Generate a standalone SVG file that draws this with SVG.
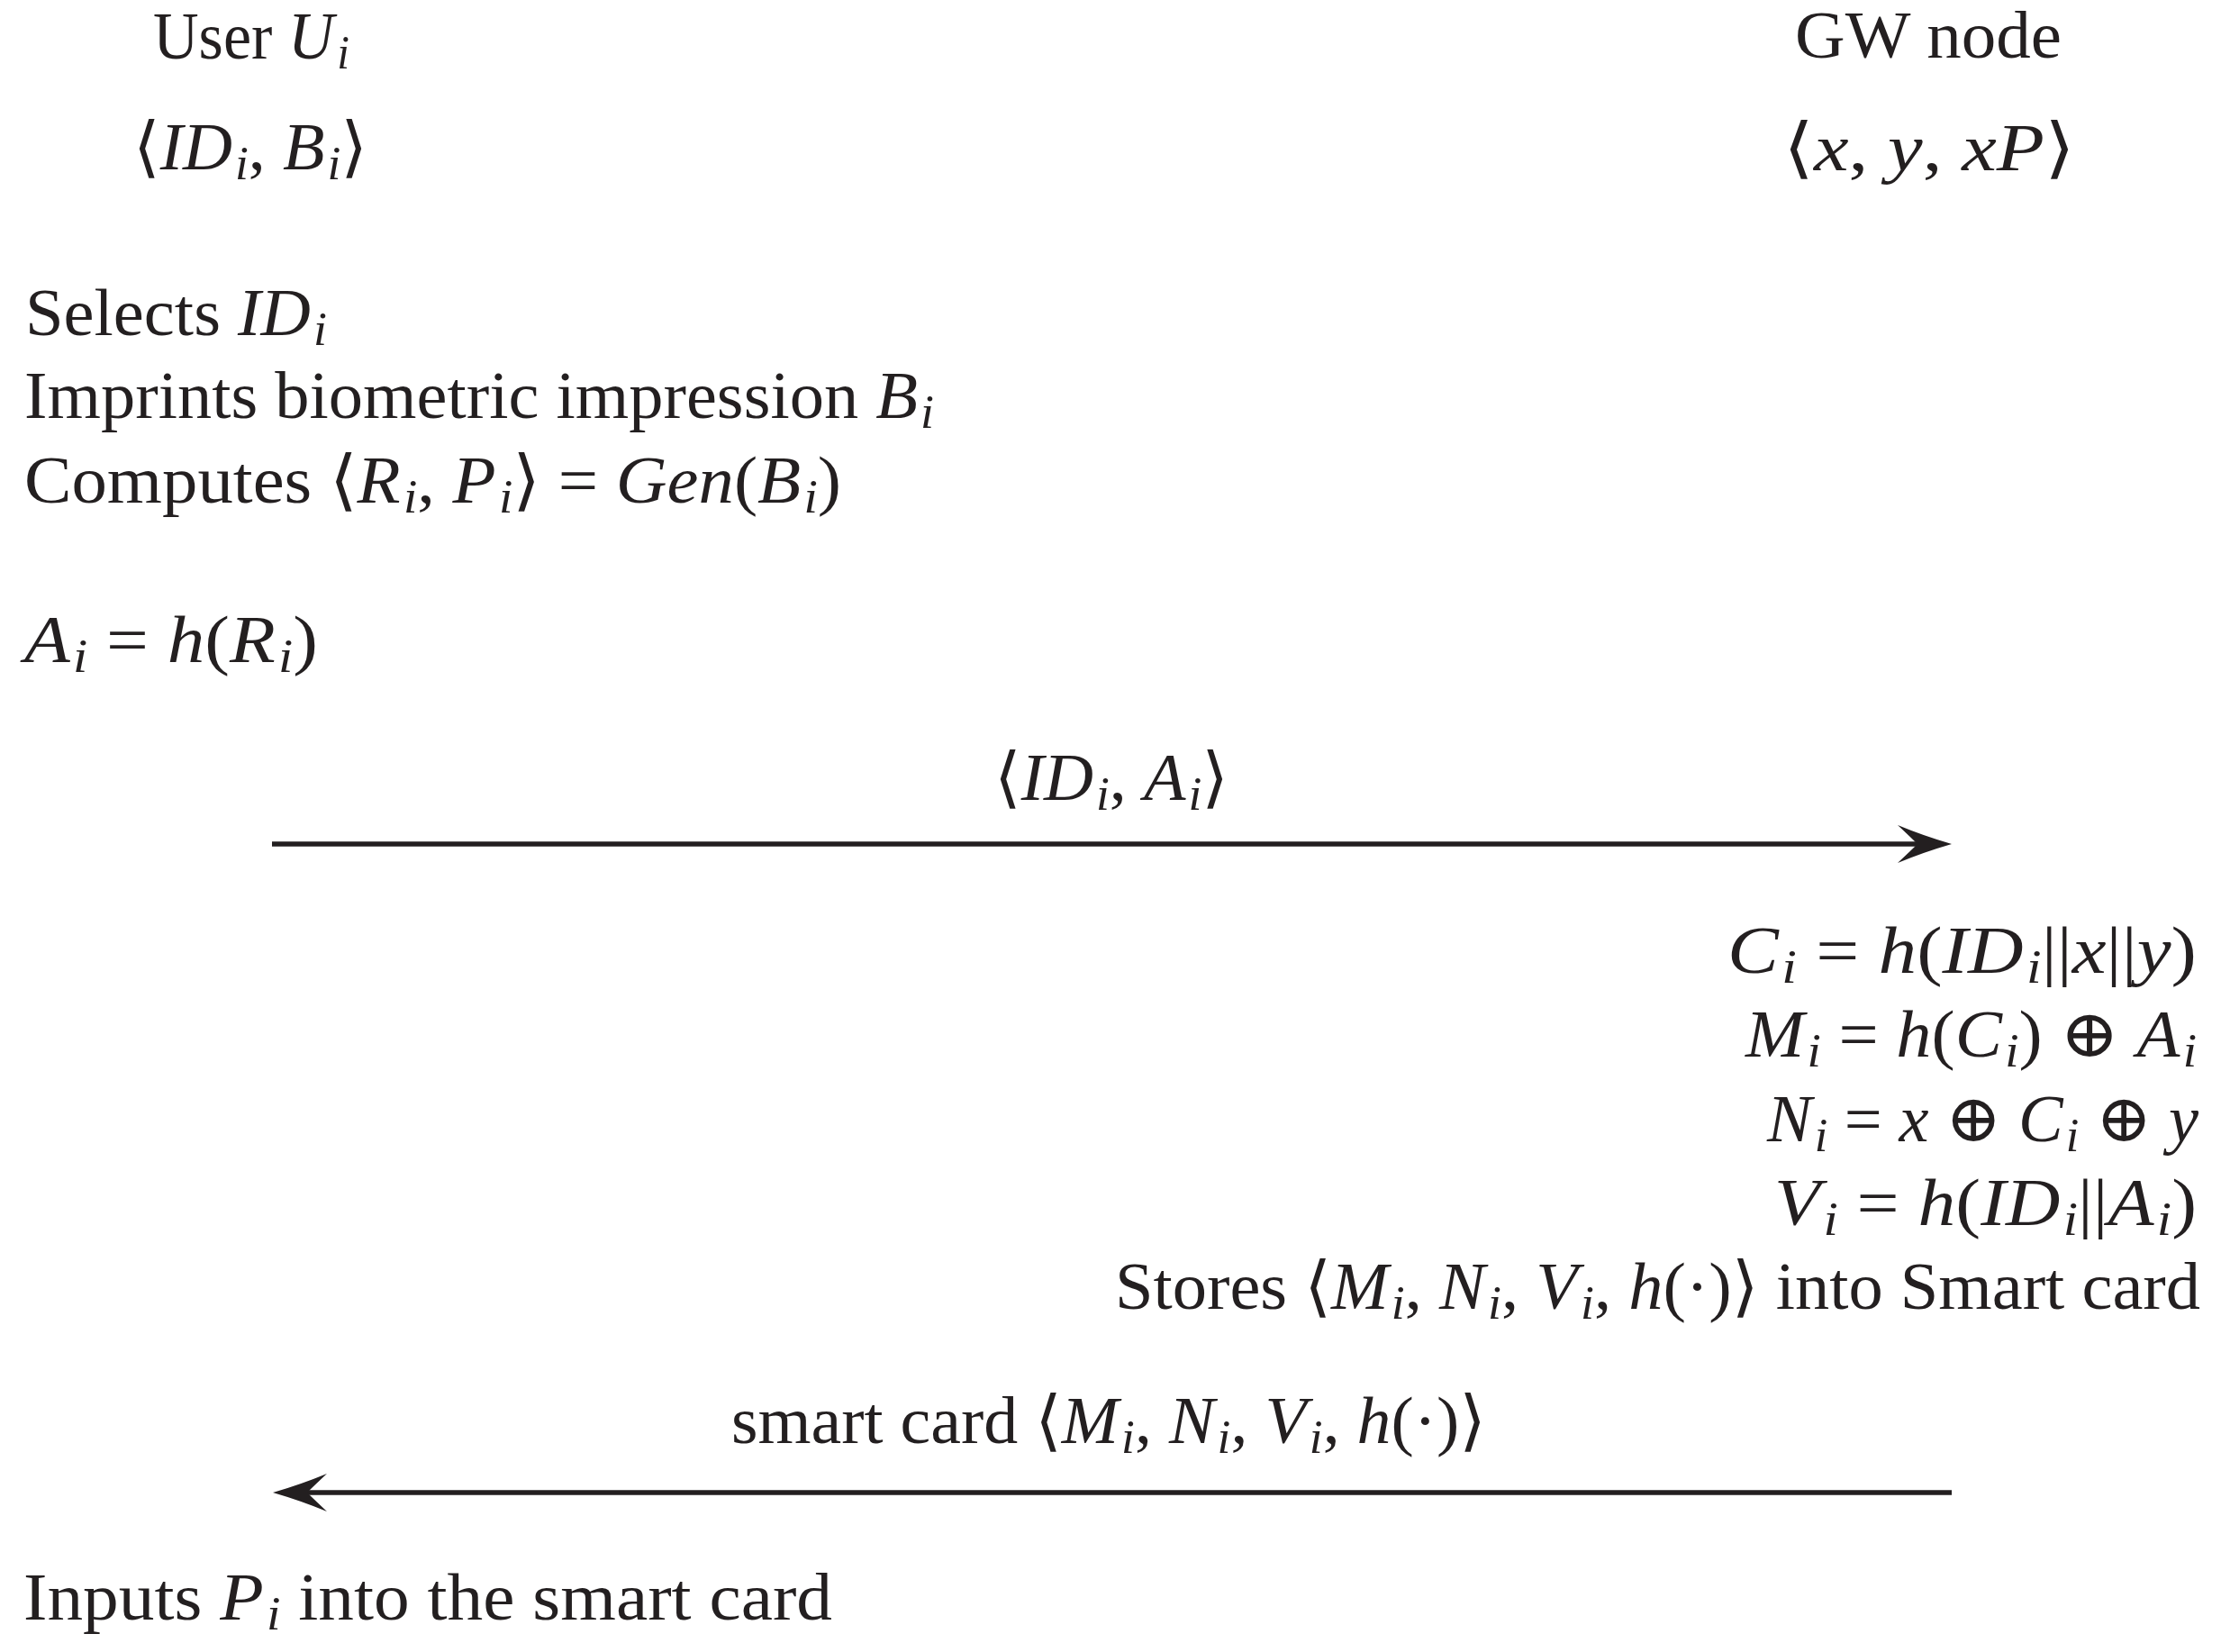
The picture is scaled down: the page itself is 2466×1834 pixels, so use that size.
<svg xmlns="http://www.w3.org/2000/svg" width="2466" height="1834" viewBox="0 0 2466 1834">
<style>
text{font-family:"Liberation Serif","DejaVu Serif",serif;font-size:74px;fill:#231f20}
.it{font-style:italic}
.sub{font-style:italic;font-size:52px}
.msg{stroke:#231f20;stroke-width:5.5;fill:none}
</style>
<defs>
<marker id="ah" viewBox="-30 -22 62 44" refX="0" refY="0" markerWidth="62" markerHeight="44" markerUnits="userSpaceOnUse" orient="auto">
<path d="M31 0 Q0 -9 -29 -21 Q-13 -6 -7 0 Q-13 6 -29 21 Q0 9 31 0Z" fill="#231f20"/>
</marker>
</defs>
<rect width="2466" height="1834" fill="#fff"/>
<g id="user">
<text x="170" y="65" textLength="218" lengthAdjust="spacingAndGlyphs">User <tspan class="it">U</tspan><tspan class="sub" dx="4" dy="11">i</tspan></text>
<text x="148" y="188" textLength="260" lengthAdjust="spacingAndGlyphs">⟨<tspan class="it">ID</tspan><tspan class="sub" dx="3" dy="11">i</tspan><tspan dy="-11">, </tspan><tspan class="it">B</tspan><tspan class="sub" dx="3" dy="11">i</tspan><tspan dy="-11">⟩</tspan></text>
</g>
<g id="gateway">
<text x="1993" y="64" textLength="296" lengthAdjust="spacingAndGlyphs">GW node</text>
<text x="1980" y="189" textLength="324" lengthAdjust="spacingAndGlyphs">⟨<tspan class="it">x</tspan>,  <tspan class="it">y</tspan>,  <tspan class="it">xP</tspan>⟩</text>
</g>
<g id="user-steps">
<text x="28" y="372" textLength="335" lengthAdjust="spacingAndGlyphs">Selects <tspan class="it">ID</tspan><tspan class="sub" dx="3" dy="11">i</tspan></text>
<text x="27" y="464" textLength="1010" lengthAdjust="spacingAndGlyphs">Imprints biometric impression <tspan class="it">B</tspan><tspan class="sub" dx="3" dy="11">i</tspan></text>
<text x="27" y="558" textLength="907" lengthAdjust="spacingAndGlyphs">Computes ⟨<tspan class="it">R</tspan><tspan class="sub" dx="3" dy="11">i</tspan><tspan dy="-11">, </tspan><tspan class="it">P</tspan><tspan class="sub" dx="3" dy="11">i</tspan><tspan dy="-11">⟩ = </tspan><tspan class="it">Gen</tspan>(<tspan class="it">B</tspan><tspan class="sub" dx="3" dy="11">i</tspan><tspan dy="-11">)</tspan></text>
<text x="27" y="735" textLength="326" lengthAdjust="spacingAndGlyphs"><tspan class="it">A</tspan><tspan class="sub" dx="3" dy="11">i</tspan><tspan dy="-11"> = </tspan><tspan class="it">h</tspan>(<tspan class="it">R</tspan><tspan class="sub" dx="3" dy="11">i</tspan><tspan dy="-11">)</tspan></text>
</g>
<g id="gateway-steps">
<text x="1918" y="1080" textLength="521" lengthAdjust="spacingAndGlyphs"><tspan class="it">C</tspan><tspan class="sub" dx="3" dy="11">i</tspan><tspan dy="-11"> = </tspan><tspan class="it">h</tspan>(<tspan class="it">ID</tspan><tspan class="sub" dx="3" dy="11">i</tspan><tspan dy="-11">||</tspan><tspan class="it">x</tspan>||<tspan class="it">y</tspan>)</text>
<text x="1938" y="1173" textLength="501" lengthAdjust="spacingAndGlyphs"><tspan class="it">M</tspan><tspan class="sub" dx="3" dy="11">i</tspan><tspan dy="-11"> = </tspan><tspan class="it">h</tspan>(<tspan class="it">C</tspan><tspan class="sub" dx="3" dy="11">i</tspan><tspan dy="-11">) ⊕ </tspan><tspan class="it">A</tspan><tspan class="sub" dx="3" dy="11">i</tspan></text>
<text x="1962" y="1267" textLength="479" lengthAdjust="spacingAndGlyphs"><tspan class="it">N</tspan><tspan class="sub" dx="3" dy="11">i</tspan><tspan dy="-11"> = </tspan><tspan class="it">x</tspan> ⊕ <tspan class="it">C</tspan><tspan class="sub" dx="3" dy="11">i</tspan><tspan dy="-11"> ⊕ </tspan><tspan class="it">y</tspan></text>
<text x="1970" y="1360" textLength="469" lengthAdjust="spacingAndGlyphs"><tspan class="it">V</tspan><tspan class="sub" dx="3" dy="11">i</tspan><tspan dy="-11"> = </tspan><tspan class="it">h</tspan>(<tspan class="it">ID</tspan><tspan class="sub" dx="3" dy="11">i</tspan><tspan dy="-11">||</tspan><tspan class="it">A</tspan><tspan class="sub" dx="3" dy="11">i</tspan><tspan dy="-11">)</tspan></text>
<text x="1238" y="1453" textLength="1205" lengthAdjust="spacingAndGlyphs">Stores ⟨<tspan class="it">M</tspan><tspan class="sub" dx="3" dy="11">i</tspan><tspan dy="-11">, </tspan><tspan class="it">N</tspan><tspan class="sub" dx="3" dy="11">i</tspan><tspan dy="-11">, </tspan><tspan class="it">V</tspan><tspan class="sub" dx="3" dy="11">i</tspan><tspan dy="-11">, </tspan><tspan class="it">h</tspan>(·)⟩ into Smart card</text>
</g>
<g id="user-final">
<text x="26" y="1798" textLength="898" lengthAdjust="spacingAndGlyphs">Inputs <tspan class="it">P</tspan><tspan class="sub" dx="3" dy="11">i</tspan><tspan dy="-11"> into the smart card</tspan></text>
</g>
<g id="connectors">
<line class="msg" x1="302" y1="937" x2="2136" y2="937" marker-end="url(#ah)"/>
<text x="1104" y="888" textLength="260" lengthAdjust="spacingAndGlyphs">⟨<tspan class="it">ID</tspan><tspan class="sub" dx="3" dy="11">i</tspan><tspan dy="-11">, </tspan><tspan class="it">A</tspan><tspan class="sub" dx="3" dy="11">i</tspan><tspan dy="-11">⟩</tspan></text>
<line class="msg" x1="2167" y1="1657" x2="334" y2="1657" marker-end="url(#ah)"/>
<text x="812" y="1602" textLength="838" lengthAdjust="spacingAndGlyphs">smart card ⟨<tspan class="it">M</tspan><tspan class="sub" dx="3" dy="11">i</tspan><tspan dy="-11">, </tspan><tspan class="it">N</tspan><tspan class="sub" dx="3" dy="11">i</tspan><tspan dy="-11">, </tspan><tspan class="it">V</tspan><tspan class="sub" dx="3" dy="11">i</tspan><tspan dy="-11">, </tspan><tspan class="it">h</tspan>(·)⟩</text>
</g>
</svg>
